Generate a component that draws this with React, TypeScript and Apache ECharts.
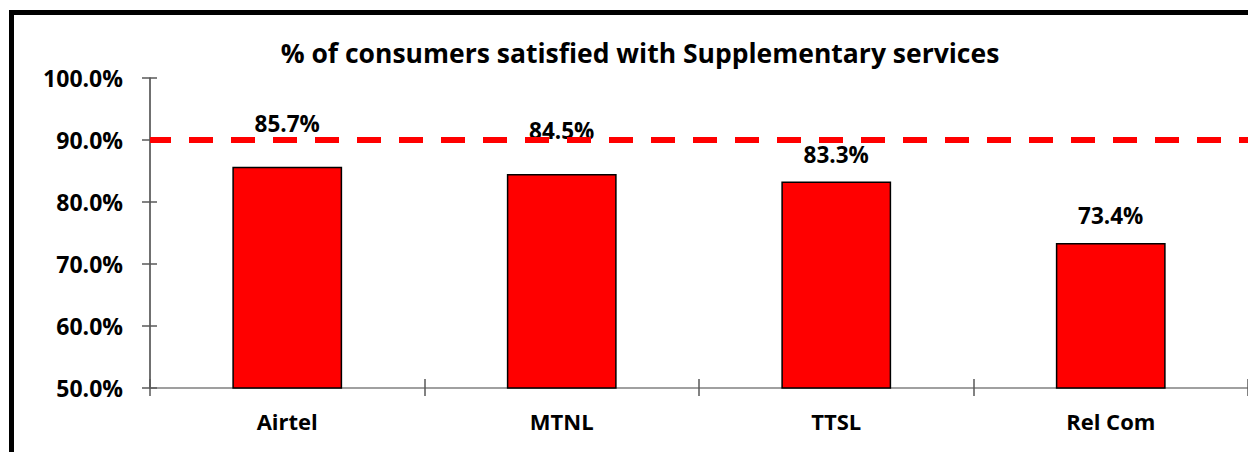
import React, { useEffect, useRef } from "react";
import * as echarts from "echarts";

const categories = ["Airtel", "MTNL", "TTSL", "Rel Com"];
const satisfied = [85.7, 84.5, 83.3, 73.4];
const labelDistances = [32, 32, 16, 16];
const benchmark = 90;
const yTicks = { min: 50, max: 100, interval: 10 };
const title = "% of consumers satisfied with Supplementary services";

const FONT = "Open Sans";

export default function App() {
  const ref = useRef<HTMLDivElement>(null);
  useEffect(() => {
    if (!ref.current) return;
    const chart = echarts.init(ref.current, undefined, { renderer: "svg" });
    chart.setOption({
      animation: false,
      backgroundColor: "#ffffff",
      title: {
        text: title,
        left: 635,
        textAlign: "center",
        top: 34,
        textStyle: { fontFamily: FONT, fontWeight: "bold", fontSize: 26.5, color: "#000" },
      },
      graphic: [
        {
          type: "rect",
          shape: { x: 11.5, y: 12.5, width: 1260, height: 500 },
          style: { fill: "none", stroke: "#000", lineWidth: 5 },
          z: 100,
        },
      ],
      grid: { left: 150, top: 78, width: 1110, height: 310 },
      xAxis: [
        {
          type: "category",
          data: categories,
          axisLine: { lineStyle: { color: "#808080", width: 1.5 } },
          axisTick: { show: true, length: 8, lineStyle: { color: "#595959", width: 1.5 } },
          axisLabel: {
            margin: 22,
            fontFamily: FONT,
            fontWeight: "bold",
            fontSize: 22,
            color: "#000",
          },
        },
        {
          type: "category",
          data: categories,
          position: "bottom",
          axisLine: { show: false },
          axisTick: { show: true, inside: true, length: 9, lineStyle: { color: "#595959", width: 1.5 } },
          axisLabel: { show: false },
        },
      ],
      yAxis: [
        {
          type: "value",
          min: yTicks.min,
          max: yTicks.max,
          interval: yTicks.interval,
          axisLine: { show: true, lineStyle: { color: "#404040", width: 1.5 } },
          axisTick: { show: true, length: 8, lineStyle: { color: "#595959", width: 1.5 } },
          splitLine: { show: false },
          axisLabel: {
            margin: 27,
            fontFamily: FONT,
            fontWeight: "bold",
            fontSize: 23,
            color: "#000",
            formatter: (v: number) => v.toFixed(1) + "%",
          },
        },
        {
          type: "value",
          position: "left",
          min: yTicks.min,
          max: yTicks.max,
          interval: yTicks.interval,
          axisLine: { show: false },
          axisTick: { show: true, inside: true, length: 7, lineStyle: { color: "#595959", width: 1.5 } },
          splitLine: { show: false },
          axisLabel: { show: false },
        },
      ],
      series: [
        {
          type: "bar",
          barWidth: "40%",
          data: satisfied.map((v, i) => ({
            value: v,
            label: { distance: labelDistances[i] },
          })),
          itemStyle: { color: "#ff0000", borderColor: "#000", borderWidth: 1.5 },
          label: {
            show: true,
            position: "top",
            fontFamily: FONT,
            fontWeight: "bold",
            fontSize: 22.5,
            color: "#000",
            formatter: (p: any) => p.value.toFixed(1) + "%",
          },
          markLine: {
            silent: true,
            symbol: "none",
            label: { show: false },
            lineStyle: { color: "#ff0000", width: 6, type: [24, 18], dashOffset: 3 },
            data: [{ yAxis: benchmark }],
          },
        },
      ],
    });
    return () => chart.dispose();
  }, []);
  return (
    <div
      ref={ref}
      style={{ position: "absolute", left: 0, top: 0, width: 1248, height: 452 }}
    />
  );
}
